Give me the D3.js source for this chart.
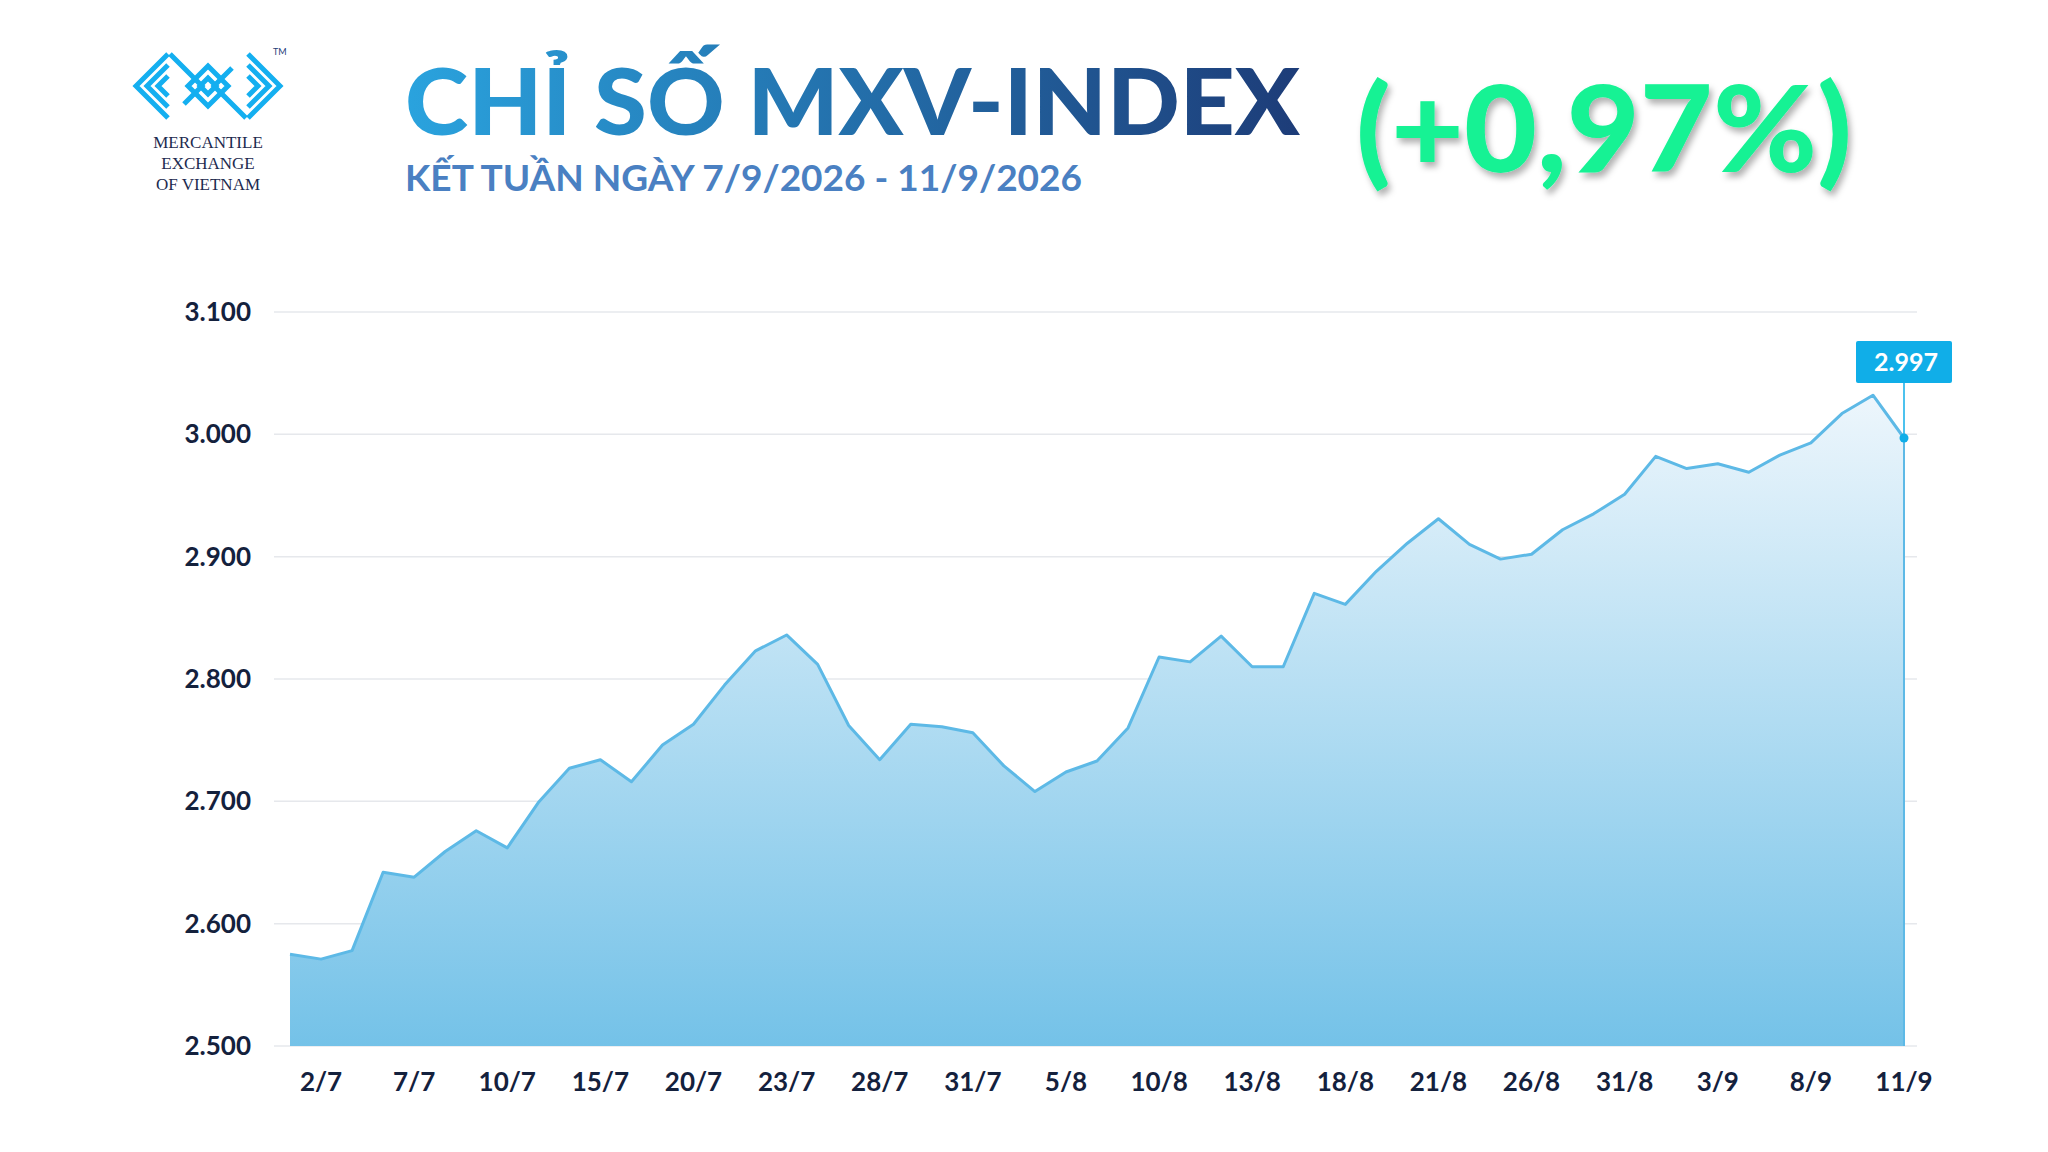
<!DOCTYPE html>
<html><head><meta charset="utf-8">
<script src="https://cdn.jsdelivr.net/npm/d3@7"></script>
<style>body{margin:0;background:#fff}svg{display:block}</style>
</head><body>
<svg id="chart" width="2048" height="1152"></svg>
<script>
// MXV-Index daily closes, 2/7 -> 11/9
var values = [2575,2571,2578,2642,2638,2659,2676,2662,2699,2727,2734,2716,2746,2763,2795,2823,2836,2812,2762,2734,2763,2761,2756,2729,2708,2724,2733,2760,2818,2814,2835,2810,2810,2870,2861,2888,2911,2931,2910,2898,2902,2922,2935,2951,2982,2972,2976,2969,2983,2993,3017,3032,2997];
var tickLabels = ["2/7","7/7","10/7","15/7","20/7","23/7","28/7","31/7","5/8","10/8","13/8","18/8","21/8","26/8","31/8","3/9","8/9","11/9"];
var yTicks = [2500,2600,2700,2800,2900,3000,3100];

var svg = d3.select("#chart");
var font = "Lato, 'Open Sans', sans-serif";

var x = d3.scaleLinear().domain([0, values.length-1]).range([290, 1904]);
var y = d3.scaleLinear().domain([2500, 3100]).range([1046, 312]);
var fmt = function(v){ return d3.format(",")(v).replace(/,/g,"."); }

var defs = svg.append("defs");
var ag = defs.append("linearGradient").attr("id","areaGrad").attr("x1",0).attr("x2",0).attr("y1",0).attr("y2",1);
ag.append("stop").attr("offset","0%").attr("stop-color","#edf6fc");
ag.append("stop").attr("offset","100%").attr("stop-color","#74c2e8");
var tg = defs.append("linearGradient").attr("id","titleGrad").attr("x1",0).attr("x2",1).attr("y1",0).attr("y2",0);
tg.append("stop").attr("offset","0%").attr("stop-color","#2aa3de");
tg.append("stop").attr("offset","100%").attr("stop-color","#1d3c78");
var sh = defs.append("filter").attr("id","shadow").attr("x","-10%").attr("y","-10%").attr("width","130%").attr("height","130%");
sh.append("feDropShadow").attr("dx",3).attr("dy",5).attr("stdDeviation",3).attr("flood-color","#000").attr("flood-opacity",0.3);

// gridlines + y labels
svg.append("g").selectAll("line").data(yTicks).join("line")
  .attr("x1",274).attr("x2",1917)
  .attr("y1",d=>y(d)).attr("y2",d=>y(d))
  .attr("stroke","#e6e8ec").attr("stroke-width",1.5);
svg.append("g").selectAll("text").data(yTicks).join("text")
  .attr("x",251).attr("y",d=>y(d)+9)
  .attr("text-anchor","end").attr("font-family",font).attr("font-weight",700)
  .attr("font-size",26).attr("fill","#14213d").text(d=>fmt(d));

// area + line
var area = d3.area().x((d,i)=>x(i)).y0(y(2500)).y1(d=>y(d));
var line = d3.line().x((d,i)=>x(i)).y(d=>y(d));
svg.append("path").datum(values).attr("d",area).attr("fill","url(#areaGrad)");
svg.append("path").datum(values).attr("d",line).attr("fill","none")
  .attr("stroke","#5db9e6").attr("stroke-width",3).attr("stroke-linejoin","round");
var last = values.length-1;
svg.append("line").attr("x1",x(last)).attr("x2",x(last)).attr("y1",y(2500)).attr("y2",y(values[last]))
  .attr("stroke","#5db9e6").attr("stroke-width",2);
svg.append("line").attr("x1",x(last)).attr("x2",x(last)).attr("y1",383).attr("y2",y(values[last]))
  .attr("stroke","#10aee8").attr("stroke-width",1.5);
svg.append("circle").attr("cx",x(last)).attr("cy",y(values[last])).attr("r",4.5).attr("fill","#10aee8");
svg.append("rect").attr("x",x(last)-48).attr("y",341).attr("width",96).attr("height",42).attr("rx",2).attr("fill","#10aee8");
svg.append("text").attr("x",x(last)+2).attr("y",371).attr("text-anchor","middle")
  .attr("font-family",font).attr("font-weight",700).attr("font-size",25).attr("fill","#fff").text(fmt(values[last]));

// x labels
svg.append("g").selectAll("text").data(tickLabels).join("text")
  .attr("x",(d,i)=>x(1+3*i)).attr("y",1091)
  .attr("text-anchor","middle").attr("font-family",font).attr("font-weight",700)
  .attr("font-size",26).attr("fill","#14213d").text(d=>d);

// titles
svg.append("text").attr("x",405).attr("y",135).attr("font-family",font).attr("font-weight",900)
  .attr("font-size",92).attr("fill","url(#titleGrad)").attr("textLength",895).attr("lengthAdjust","spacingAndGlyphs")
  .text("CHỈ SỐ MXV-INDEX");
svg.append("text").attr("x",405).attr("y",191).attr("font-family",font).attr("font-weight",700)
  .attr("font-size",36).attr("fill","#4a80c2").attr("textLength",677).attr("lengthAdjust","spacingAndGlyphs")
  .text("KẾT TUẦN NGÀY 7/9/2026 - 11/9/2026");
svg.append("text").attr("x",1356).attr("y",172).attr("font-family",font).attr("font-weight",900)
  .attr("font-size",120).attr("fill","#14f294").attr("filter","url(#shadow)")
  .attr("textLength",496).attr("lengthAdjust","spacingAndGlyphs").text("(+0,97%)");

// logo: nested chevrons around a small diamond
var logo = svg.append("g").attr("fill","none").attr("stroke","#14aff0").attr("stroke-width",5).attr("stroke-linejoin","miter");
var cy = 86;
[0,1,2].forEach(function(k){
  var h = 32 - k*11;
  logo.append("polyline").attr("points",[[136+k*11+h,cy-h],[136+k*11,cy],[136+k*11+h,cy+h]].join(" "));
  logo.append("polyline").attr("points",[[280-k*11-h,cy-h],[280-k*11,cy],[280-k*11-h,cy+h]].join(" "));
});
[8,20].forEach(function(r){
  logo.append("polygon").attr("points",[[208,cy-r],[208+r,cy],[208,cy+r],[208-r,cy]].join(" "));
});
logo.append("polyline").attr("points",[[170,54],[202,86],[184,104]].join(" "));
logo.append("polyline").attr("points",[[246,118],[214,86],[232,68]].join(" "));
svg.append("text").attr("x",273).attr("y",55).attr("font-size",9).attr("font-family",font).attr("fill","#1d3c78").text("TM");
["MERCANTILE","EXCHANGE","OF VIETNAM"].forEach(function(t,i){
  svg.append("text").attr("x",208).attr("y",148+i*21).attr("text-anchor","middle")
    .attr("font-family","'Liberation Serif', serif").attr("font-size",17).attr("fill","#1d2b4f").text(t);
});
</script>
</body></html>
